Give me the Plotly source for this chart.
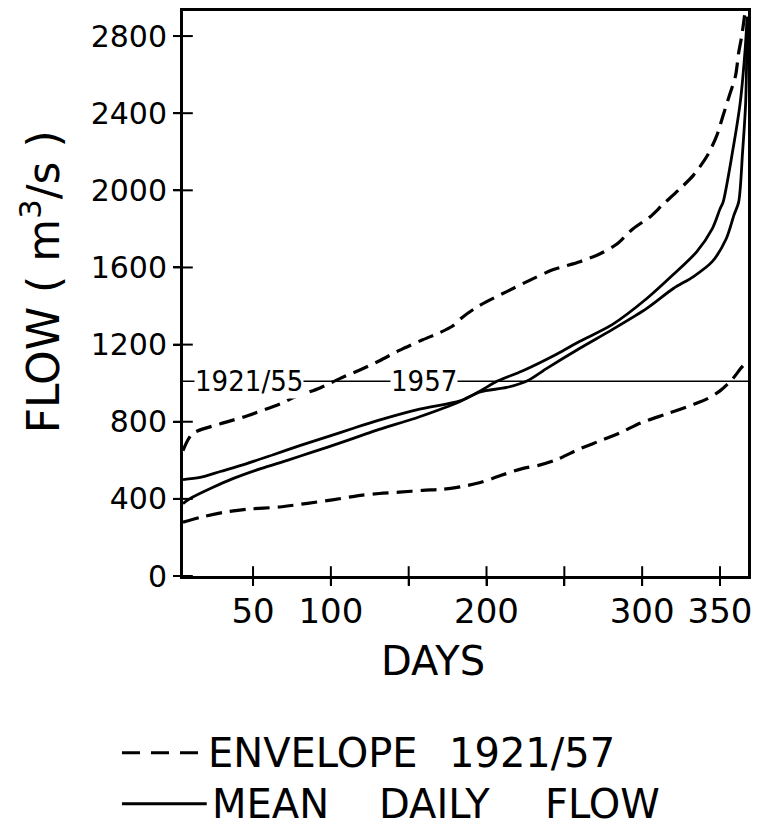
import plotly.graph_objects as go

# ---------------- data ----------------
ENV_MAX_DAYS = [5, 11, 29, 46, 69, 76, 93, 106, 119, 131, 144, 159, 170, 178, 185, 196, 213, 230,
                243, 260, 273, 284, 294, 305, 313, 324, 333, 342, 348, 352, 356, 360, 362, 364, 366]
ENV_MAX_FLOW = [650, 737, 789, 830, 898, 925, 975, 1025, 1070, 1115, 1170, 1225, 1262, 1295, 1345,
                1405, 1475, 1542, 1589, 1630, 1671, 1723, 1800, 1862, 1924, 2006, 2079, 2182, 2285,
                2388, 2491, 2595, 2713, 2801, 2920]

ENV_MIN_DAYS = [5, 16, 31, 46, 67, 85, 101, 119, 131, 144, 159, 172, 183, 196, 209, 223, 234, 245,
                260, 273, 286, 299, 316, 333, 342, 350, 358, 363, 367]
ENV_MIN_FLOW = [279, 304, 330, 346, 358, 377, 395, 418, 428, 435, 444, 450, 462, 485, 521, 557, 575,
                603, 660, 701, 743, 794, 841, 890, 920, 960, 1021, 1073, 1110]

FLOW_1921_55_DAYS = [5, 16, 29, 46, 63, 80, 97, 114, 131, 157, 183, 196, 213, 226, 239, 260, 281,
                     303, 320, 333, 345, 354, 359, 362, 364.5, 366.5, 367.5]
FLOW_1921_55 = [500, 511, 542, 583, 629, 676, 720, 765, 808, 865, 908, 955, 978, 1011, 1078, 1181,
                1279, 1388, 1491, 1553, 1630, 1749, 1872, 1939, 2197, 2455, 2900]

FLOW_1957_DAYS = [5, 11, 24, 37, 55, 72, 89, 106, 123, 131, 157, 183, 196, 207, 223, 245, 260, 281,
                  303, 320, 335, 345, 350, 352, 358, 363, 366, 367.5]
FLOW_1957 = [376, 408, 459, 505, 557, 600, 645, 690, 738, 760, 826, 905, 960, 1011, 1063, 1150,
             1217, 1305, 1439, 1563, 1681, 1800, 1903, 1939, 2197, 2455, 2713, 2900]

MEAN_LEVEL_DAYS = [5, 368]
MEAN_LEVEL_FLOW = [1010, 1010]
MEAN_LABELS = ["1921/55", "1957"]
MEAN_LABEL_DAYS = [47.5, 160]

X_TICKS = [50, 100, 200, 300, 350]
X_TICK_TEXT = ["50", "100", "200", "300", "350"]
X_MINOR_TICKS = [150, 250]
X_ALL_TICKS = [50, 100, 150, 200, 250, 300, 350]
Y_TICKS = [0, 400, 800, 1200, 1600, 2000, 2400, 2800]
Y_TICK_TEXT = ["0", "400", "800", "1200", "1600", "2000", "2400", "2800"]

X_RANGE = [5, 368]
Y_RANGE = [0, 2930]

LEGEND_ENVELOPE = ["ENVELOPE", "1921/57"]
LEGEND_MEAN = ["MEAN", "DAILY", "FLOW"]

FONT = "DejaVu Sans"
COND = "DejaVu Sans Condensed, DejaVu Sans"
DASH = "16px,8px"

fig = go.Figure()

for xs, ys in [(ENV_MAX_DAYS, ENV_MAX_FLOW), (ENV_MIN_DAYS, ENV_MIN_FLOW)]:
    fig.add_trace(go.Scatter(x=xs, y=ys, mode="lines", showlegend=False,
                             line=dict(color="black", width=3.2, dash=DASH, shape="spline", smoothing=0.8)))

for xs, ys in [(FLOW_1921_55_DAYS, FLOW_1921_55), (FLOW_1957_DAYS, FLOW_1957)]:
    fig.add_trace(go.Scatter(x=xs, y=ys, mode="lines", showlegend=False,
                             line=dict(color="black", width=2.8, shape="spline", smoothing=0.8)))

fig.add_trace(go.Scatter(x=MEAN_LEVEL_DAYS, y=MEAN_LEVEL_FLOW, mode="lines", showlegend=False,
                         line=dict(color="black", width=1.5)))

# tick marks that cross the axis lines (inner half drawn as markers on the axes)
fig.add_trace(go.Scatter(x=X_ALL_TICKS, y=[Y_RANGE[0]] * len(X_ALL_TICKS), mode="markers",
                         showlegend=False, cliponaxis=False, hoverinfo="skip",
                         marker=dict(symbol="line-ns-open", size=14, color="black",
                                     line=dict(color="black", width=2))))
fig.add_trace(go.Scatter(x=[X_RANGE[0]] * len(Y_TICKS), y=Y_TICKS, mode="markers",
                         showlegend=False, cliponaxis=False, hoverinfo="skip",
                         marker=dict(symbol="line-ew-open", size=14, color="black",
                                     line=dict(color="black", width=2))))

for lab, d in zip(MEAN_LABELS, MEAN_LABEL_DAYS):
    fig.add_annotation(x=d, y=MEAN_LEVEL_FLOW[0], text=lab, showarrow=False,
                       font=dict(family=COND, size=29, color="black"),
                       bgcolor="white", borderpad=0, xanchor="center", yanchor="middle")

axis_common = dict(showgrid=False, zeroline=False, color="black")

fig.update_layout(
    width=779, height=827,
    margin=dict(l=183, r=31, t=8, b=251),
    paper_bgcolor="white", plot_bgcolor="white",
    xaxis=dict(range=X_RANGE, tickvals=X_TICKS, ticktext=X_TICK_TEXT, ticks="outside",
               ticklen=7, tickwidth=2, tickcolor="black", showline=True, linewidth=3,
               linecolor="black", mirror=True, ticklabelstandoff=-4,
               minor=dict(tickvals=X_MINOR_TICKS, ticks="outside", ticklen=7, tickwidth=2,
                          tickcolor="black", showgrid=False),
               tickfont=dict(family=FONT, size=34, color="black"), **axis_common),
    yaxis=dict(range=Y_RANGE, tickvals=Y_TICKS, ticktext=Y_TICK_TEXT, ticks="outside",
               ticklen=7, tickwidth=2, tickcolor="black", showline=True, linewidth=3,
               linecolor="black", mirror=True, ticklabelstandoff=0,
               tickfont=dict(family=FONT, size=30, color="black"), **axis_common),
)

# axis titles
fig.add_annotation(xref="paper", yref="paper", x=-0.252, y=0.521, textangle=-90,
                   text="FLOW ( m<sup>3</sup>/s )", showarrow=False,
                   font=dict(family=FONT, size=44, color="black"),
                   xanchor="center", yanchor="middle")
fig.add_annotation(xref="paper", yref="paper", x=0.4425, y=-0.151, text="DAYS", showarrow=False,
                   font=dict(family=FONT, size=40, color="black"),
                   xanchor="center", yanchor="middle")

# legend (drawn below the chart)
LEG_Y1, LEG_Y2 = -0.313, -0.403
fig.add_shape(type="line", xref="paper", yref="paper", x0=-0.108, x1=0.042, y0=LEG_Y1, y1=LEG_Y1,
              line=dict(color="black", width=3, dash="18px,11px"))
for word, xc in zip(LEGEND_ENVELOPE, [0.2305, 0.6177]):
    fig.add_annotation(xref="paper", yref="paper", x=xc, y=LEG_Y1, text=word,
                       showarrow=False, font=dict(family=FONT, size=40, color="black"),
                       xanchor="center", yanchor="middle")
fig.add_shape(type="line", xref="paper", yref="paper", x0=-0.108, x1=0.042, y0=LEG_Y2, y1=LEG_Y2,
              line=dict(color="black", width=3))
for word, xc in zip(LEGEND_MEAN, [0.154, 0.446, 0.7416]):
    fig.add_annotation(xref="paper", yref="paper", x=xc, y=LEG_Y2, text=word,
                       showarrow=False, font=dict(family=FONT, size=40, color="black"),
                       xanchor="center", yanchor="middle")

fig.write_html("out.html")
